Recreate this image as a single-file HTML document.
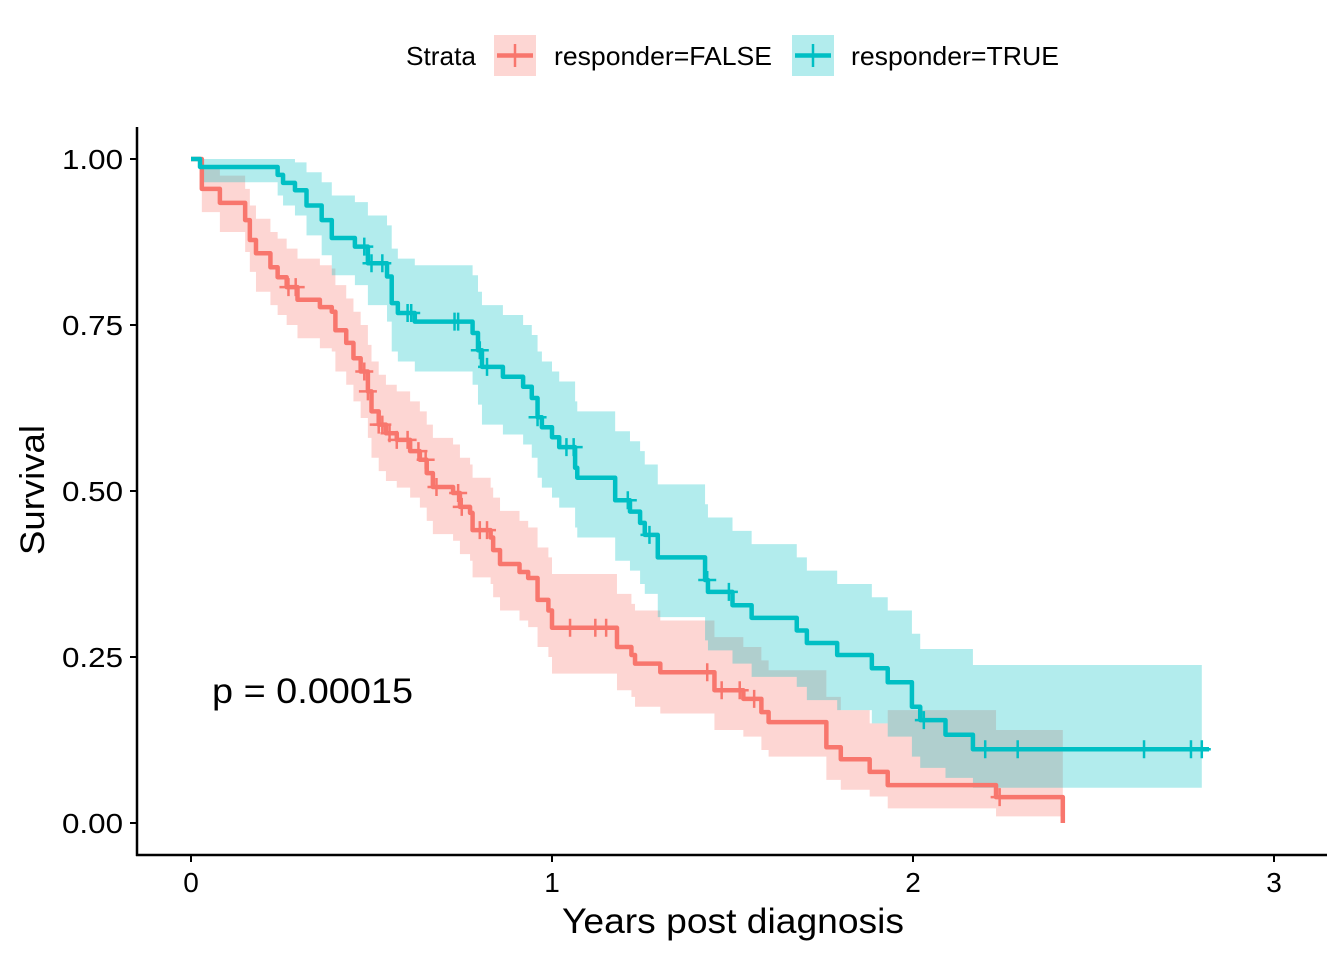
<!DOCTYPE html>
<html><head><meta charset="utf-8"><style>
html,body{margin:0;padding:0;background:#fff;}
svg{display:block;font-family:"Liberation Sans",sans-serif;}
</style></head><body>
<svg id="chart" width="1344" height="960" viewBox="0 0 1344 960">
<rect x="0" y="0" width="1344" height="960" fill="#fff"/>
<g>
<text x="406" y="65" font-size="26" textLength="70" lengthAdjust="spacingAndGlyphs" fill="#000">Strata</text>
<g>
<rect x="494" y="35" width="42" height="41" fill="#F8766D" fill-opacity="0.3"/>
<line x1="497" y1="55.5" x2="533" y2="55.5" stroke="#F8766D" stroke-width="4.5"/>
<line x1="515" y1="44" x2="515" y2="67" stroke="#F8766D" stroke-width="2.5"/>
<text x="554" y="65" font-size="26" textLength="218" lengthAdjust="spacingAndGlyphs" fill="#000">responder=FALSE</text>
</g>
<g>
<rect x="792" y="35" width="42" height="41" fill="#00BFC4" fill-opacity="0.3"/>
<line x1="795" y1="55.5" x2="831" y2="55.5" stroke="#00BFC4" stroke-width="4.5"/>
<line x1="813" y1="44" x2="813" y2="67" stroke="#00BFC4" stroke-width="2.5"/>
<text x="851" y="65" font-size="26" textLength="208" lengthAdjust="spacingAndGlyphs" fill="#000">responder=TRUE</text>
</g>
</g>
<g id="plot"></g>
<g id="axes"></g>
<text x="212" y="703" font-size="35" textLength="201" lengthAdjust="spacingAndGlyphs" fill="#000">p = 0.00015</text>
<text x="562" y="933" font-size="35" textLength="342" lengthAdjust="spacingAndGlyphs" fill="#000">Years post diagnosis</text>
<text transform="translate(44,555) rotate(-90)" font-size="34" textLength="130" lengthAdjust="spacingAndGlyphs" fill="#000">Survival</text>
</svg>
<script>
// responder=FALSE
var falseTimes=[0,0.03,0.08,0.15,0.163,0.18,0.22,0.24,0.265,0.295,0.357,0.39,0.40,0.43,0.45,0.47,0.49,0.50,0.52,0.54,0.57,0.607,0.634,0.653,0.67,0.726,0.745,0.773,0.78,0.83,0.837,0.856,0.91,0.934,0.96,0.99,1.00,1.18,1.22,1.23,1.30,1.45,1.53,1.58,1.60,1.76,1.80,1.88,1.93,2.23];
var falseSurv=[1,0.955,0.934,0.908,0.878,0.858,0.837,0.822,0.807,0.788,0.777,0.77,0.742,0.723,0.70,0.68,0.65,0.62,0.60,0.587,0.577,0.56,0.547,0.527,0.506,0.497,0.476,0.467,0.441,0.43,0.411,0.39,0.378,0.369,0.336,0.32,0.294,0.265,0.253,0.24,0.227,0.20,0.187,0.167,0.152,0.114,0.096,0.077,0.057,0.039];
var falseLower=[1,0.92,0.89,0.86,0.83,0.80,0.78,0.765,0.75,0.73,0.715,0.71,0.68,0.66,0.635,0.61,0.58,0.55,0.53,0.515,0.505,0.49,0.475,0.455,0.435,0.425,0.405,0.395,0.37,0.36,0.34,0.32,0.305,0.295,0.265,0.25,0.225,0.20,0.19,0.175,0.165,0.14,0.13,0.11,0.10,0.065,0.05,0.04,0.022,0.01];
var falseUpper=[1,0.99,0.975,0.955,0.93,0.91,0.89,0.88,0.865,0.85,0.84,0.835,0.81,0.79,0.77,0.75,0.72,0.695,0.675,0.66,0.65,0.635,0.62,0.60,0.58,0.57,0.55,0.54,0.52,0.505,0.49,0.47,0.455,0.445,0.415,0.40,0.375,0.345,0.33,0.32,0.305,0.28,0.265,0.245,0.23,0.19,0.17,0.15,0.17,0.14];
var falseEnd=2.415;
var falseCensor=[0.27,0.29,0.48,0.49,0.52,0.53,0.55,0.57,0.60,0.63,0.65,0.68,0.74,0.75,0.80,0.82,1.05,1.12,1.15,1.43,1.47,1.52,1.56,2.24];
// responder=TRUE
var trueTimes=[0,0.025,0.24,0.255,0.288,0.32,0.362,0.39,0.454,0.49,0.543,0.556,0.573,0.62,0.78,0.795,0.806,0.864,0.92,0.944,0.96,0.972,1.0,1.02,1.064,1.07,1.175,1.216,1.244,1.257,1.293,1.424,1.432,1.50,1.553,1.678,1.706,1.79,1.886,1.93,1.997,2.02,2.09,2.166];
var trueSurv=[1,0.988,0.976,0.964,0.953,0.93,0.908,0.881,0.868,0.843,0.823,0.783,0.768,0.755,0.738,0.712,0.687,0.672,0.657,0.64,0.611,0.596,0.581,0.566,0.535,0.52,0.486,0.469,0.452,0.434,0.40,0.366,0.348,0.328,0.309,0.29,0.271,0.253,0.233,0.212,0.175,0.155,0.133,0.111];
var trueLower=[1,0.965,0.945,0.93,0.915,0.885,0.855,0.825,0.81,0.78,0.755,0.71,0.695,0.68,0.66,0.63,0.60,0.585,0.57,0.55,0.52,0.505,0.49,0.475,0.445,0.43,0.395,0.38,0.36,0.345,0.31,0.275,0.26,0.24,0.22,0.205,0.185,0.17,0.15,0.13,0.10,0.083,0.068,0.053];
var trueUpper=[1,1,1,1,0.995,0.98,0.965,0.945,0.935,0.915,0.9,0.865,0.85,0.84,0.825,0.80,0.78,0.765,0.75,0.735,0.71,0.695,0.68,0.665,0.635,0.62,0.59,0.575,0.56,0.54,0.51,0.48,0.46,0.44,0.42,0.40,0.38,0.36,0.34,0.32,0.285,0.262,0.262,0.238];
var trueEnd=2.82;
var trueBandEnd=2.80;
var trueCensor=[0.48,0.50,0.53,0.60,0.61,0.73,0.74,0.80,0.82,0.96,1.04,1.06,1.21,1.27,1.43,1.49,2.03,2.20,2.29,2.64,2.77,2.80];
var xTicks=[0,1,2,3];
var yTicks=[0,0.25,0.5,0.75,1];
var yTickLabels=["0.00","0.25","0.50","0.75","1.00"];

function xs(t){return 191+t*361;}
function ys(s){return 823-s*664;}
var NS='http://www.w3.org/2000/svg';
function mk(tag,attrs,parent){var e=document.createElementNS(NS,tag);for(var k in attrs)e.setAttribute(k,attrs[k]);parent.appendChild(e);return e;}
var plot=document.getElementById('plot');
var axes=document.getElementById('axes');

function bandPath(times,lo,hi,end){
  var top='',bot=[];
  for(var i=0;i<times.length;i++){
    var x0=xs(times[i]),x1=xs(i+1<times.length?times[i+1]:end);
    top+=(i?'L':'M')+x0+','+ys(hi[i])+'L'+x1+','+ys(hi[i]);
    bot.push('L'+x1+','+ys(lo[i])+'L'+x0+','+ys(lo[i]));
  }
  return top+bot.reverse().join('')+'Z';
}
function linePath(times,surv,end,dropEnd){
  var d='M'+xs(times[0])+','+ys(surv[0]);
  for(var i=0;i<times.length;i++){
    if(i>0)d+='L'+xs(times[i])+','+ys(surv[i]);
    var x1=xs(i+1<times.length?times[i+1]:end);
    d+='L'+x1+','+ys(surv[i]);
  }
  if(dropEnd)d+='L'+xs(end)+','+ys(0);
  return d;
}
function survAt(times,surv,t){var s=surv[0];for(var i=0;i<times.length;i++){if(times[i]<=t)s=surv[i];}return s;}

var bf=mk('path',{d:bandPath(falseTimes,falseLower,falseUpper,falseEnd),fill:'#F8766D','fill-opacity':0.3},plot);


var bt=mk('path',{d:bandPath(trueTimes,trueLower,trueUpper,trueBandEnd),fill:'#00BFC4','fill-opacity':0.3},plot);


var lf=mk('path',{d:linePath(falseTimes,falseSurv,falseEnd,true),fill:'none',stroke:'#F8766D','stroke-width':4.5,'stroke-linejoin':'round'},plot);


var lt=mk('path',{d:linePath(trueTimes,trueSurv,trueEnd,false),fill:'none',stroke:'#00BFC4','stroke-width':4.5,'stroke-linejoin':'round'},plot);



function censor(times,surv,cens,color,name){
  for(var i=0;i<cens.length;i++){
    var x=xs(cens[i]),y=ys(survAt(times,surv,cens[i]));
    var g=mk('path',{d:'M'+(x-9)+','+y+'H'+(x+9)+'M'+x+','+(y-9)+'V'+(y+9),stroke:color,'stroke-width':2.5,fill:'none'},plot);
    
    
  }
}
censor(falseTimes,falseSurv,falseCensor,'#F8766D','censor-mark-false');
censor(trueTimes,trueSurv,trueCensor,'#00BFC4','censor-mark-true');

var ya=mk('line',{x1:137,y1:127,x2:137,y2:856,stroke:'#000','stroke-width':2.5},axes);


var xa=mk('line',{x1:136,y1:855,x2:1327,y2:855,stroke:'#000','stroke-width':2.5},axes);


for(var i=0;i<yTicks.length;i++){
  var y=ys(yTicks[i]);
  var tk=mk('line',{x1:130,y1:y,x2:137,y2:y,stroke:'#000','stroke-width':2},axes);
  
  
  var tl=mk('text',{x:123,y:y+10,'font-size':28,'text-anchor':'end',fill:'#000',textLength:61,lengthAdjust:'spacingAndGlyphs'},axes);
  tl.textContent=yTickLabels[i];
  
  
}
for(var j=0;j<xTicks.length;j++){
  var x=xs(xTicks[j]);
  var tk2=mk('line',{x1:x,y1:855,x2:x,y2:862,stroke:'#000','stroke-width':2},axes);
  
  
  var tl2=mk('text',{x:x,y:892,'font-size':28,'text-anchor':'middle',fill:'#000'},axes);
  tl2.textContent=String(xTicks[j]);
  
  
}
</script>
</body></html>
